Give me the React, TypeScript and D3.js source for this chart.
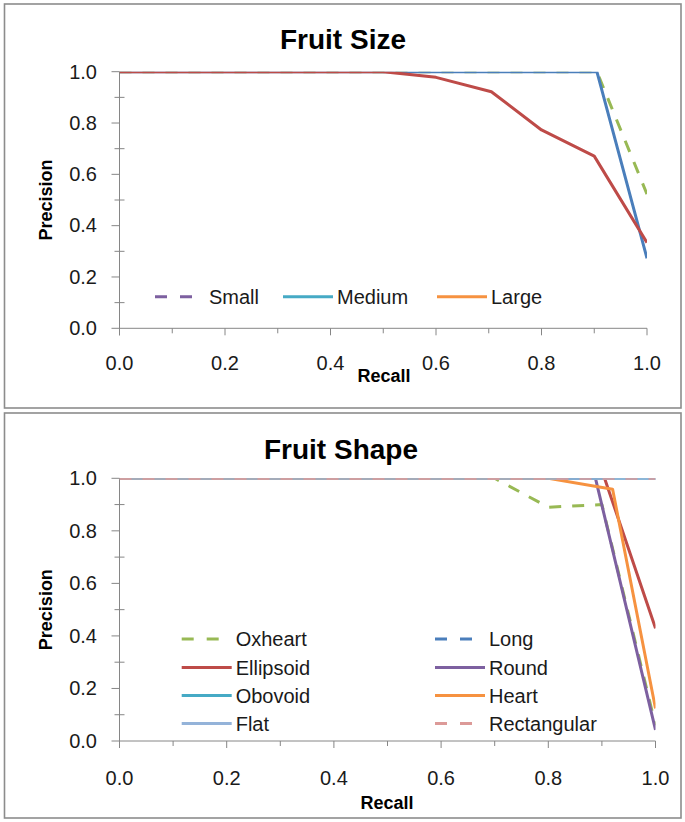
import React from 'react';
import * as d3 from 'd3';

// ---------- shared axis values ----------
const majorTicks = [0, 0.2, 0.4, 0.6, 0.8, 1.0];
const minorTicks = [0.1, 0.3, 0.5, 0.7, 0.9];

// ---------- Fruit Size (plotted series) ----------
const sizeGreenRecall = [0, 0.905, 1.0];
const sizeGreenPrecision = [1, 1, 0.523];
const sizeBlueRecall = [0, 0.905, 1.0];
const sizeBluePrecision = [1, 1, 0.273];
const sizeRedRecall = [0, 0.5, 0.6, 0.705, 0.8, 0.9, 1.0];
const sizeRedPrecision = [1, 1, 0.978, 0.922, 0.773, 0.671, 0.334];

// Fruit Size legend entries (as printed)
const sizeLegendNames = ['Small', 'Medium', 'Large'];
const sizeLegendColors = ['#7D60A0', '#46AAC5', '#F69240'];
const sizeLegendDashed = [true, false, false];

// ---------- Fruit Shape ----------
const shapeNames = ['Oxheart', 'Long', 'Ellipsoid', 'Round', 'Obovoid', 'Heart', 'Flat', 'Rectangular'];
const shapeColors = ['#98B954', '#4A7EBB', '#BE4B48', '#7D60A0', '#46AAC5', '#F69240', '#94B3D9', '#DC9A98'];
const shapeDashed = [true, true, false, false, false, false, false, true];
const oxheartRecall = [0, 0.7, 0.8, 0.9, 1.0];
const oxheartPrecision = [1, 1, 0.89, 0.9, 0.06];
const longRecall = [0, 1.0];
const longPrecision = [1, 1];
const ellipsoidRecall = [0, 0.905, 1.0];
const ellipsoidPrecision = [1, 1, 0.429];
const roundRecall = [0, 0.888, 1.0];
const roundPrecision = [1, 1, 0.042];
const obovoidRecall = [0, 1.0];
const obovoidPrecision = [1, 1];
const heartRecall = [0, 0.8, 0.92, 1.0];
const heartPrecision = [1, 1, 0.958, 0.124];
const flatRecall = [0, 1.0];
const flatPrecision = [1, 1];
const rectangularRecall = [0, 1.0];
const rectangularPrecision = [1, 1];

const FONT = "'Liberation Sans', Arial, sans-serif";
const AXIS = '#868686';
const TEXT = '#1a1a1a';

type Series = { recall: number[]; precision: number[]; color: string; dashed: boolean };
type LegendItem = { name: string; color: string; dashed: boolean; x: number; y: number };

function Panel(props: {
  id: string;
  frame: { x: number; y: number; w: number; h: number };
  plot: { left: number; right: number; top: number; bottom: number };
  title: string;
  titleX: number;
  titleY: number;
  xLabelY: number;
  recallX: number;
  recallY: number;
  series: Series[];
  legend: LegendItem[];
}) {
  const { id, frame, plot, series, legend } = props;
  const x = d3.scaleLinear().domain([0, 1]).range([plot.left, plot.right]);
  const y = d3.scaleLinear().domain([0, 1]).range([plot.bottom, plot.top]);
  const line = d3
    .line<[number, number]>()
    .x((d) => x(d[0]))
    .y((d) => y(d[1]));
  const midY = (plot.top + plot.bottom) / 2;
  return (
    <g>
      <rect x={frame.x} y={frame.y} width={frame.w} height={frame.h} fill="#fff" stroke="#8c8c8c" strokeWidth={1.6} />
      <defs>
        <clipPath id={id}>
          <rect x={plot.left} y={plot.top} width={plot.right - plot.left} height={plot.bottom - plot.top} />
        </clipPath>
      </defs>
      <text x={props.titleX} y={props.titleY} textAnchor="middle" fontFamily={FONT} fontWeight="bold" fontSize={28} fill="#000">
        {props.title}
      </text>
      {/* axes */}
      <line x1={plot.left} x2={plot.left} y1={plot.top} y2={plot.bottom + 7} stroke={AXIS} strokeWidth={1} />
      <line x1={plot.left} x2={plot.right} y1={plot.bottom} y2={plot.bottom} stroke={AXIS} strokeWidth={1} />
      {majorTicks.map((t) => (
        <g key={'ym' + t}>
          <line x1={plot.left - 8} x2={plot.left} y1={y(t)} y2={y(t)} stroke={AXIS} />
          <text x={97} y={y(t) + 6.8} textAnchor="end" fontFamily={FONT} fontSize={20} fill={TEXT}>
            {d3.format('.1f')(t)}
          </text>
          <line x1={x(t)} x2={x(t)} y1={plot.bottom} y2={plot.bottom + 7} stroke={AXIS} />
          <text x={x(t)} y={props.xLabelY} textAnchor="middle" fontFamily={FONT} fontSize={20} fill={TEXT}>
            {d3.format('.1f')(t)}
          </text>
        </g>
      ))}
      {minorTicks.map((t) => (
        <g key={'yn' + t}>
          <line x1={plot.left - 5} x2={plot.left + 5} y1={y(t)} y2={y(t)} stroke={AXIS} />
          <line x1={x(t)} x2={x(t)} y1={plot.bottom} y2={plot.bottom + 5} stroke={AXIS} />
        </g>
      ))}
      <text x={props.recallX} y={props.recallY} textAnchor="middle" fontFamily={FONT} fontWeight="bold" fontSize={18} fill="#000">
        Recall
      </text>
      <text
        transform={`translate(51.5,${midY}) rotate(-90)`}
        textAnchor="middle"
        fontFamily={FONT}
        fontWeight="bold"
        fontSize={18}
        fill="#000"
      >
        Precision
      </text>
      <g clipPath={`url(#${id})`}>
        {series.map((s, i) => (
          <path
            key={i}
            d={line(s.recall.map((r, j) => [r, s.precision[j]] as [number, number])) || ''}
            fill="none"
            stroke={s.color}
            strokeWidth={3}
            strokeDasharray={s.dashed ? '12,11' : undefined}
            strokeLinejoin="round"
          />
        ))}
      </g>
      {legend.map((l, i) => (
        <g key={'lg' + i}>
          <line
            x1={l.x}
            x2={l.x + 50}
            y1={l.y}
            y2={l.y}
            stroke={l.color}
            strokeWidth={3}
            strokeDasharray={l.dashed ? '12,13' : undefined}
          />
          <text x={l.x + 54} y={l.y + 7} fontFamily={FONT} fontSize={20} fill={TEXT}>
            {l.name}
          </text>
        </g>
      ))}
    </g>
  );
}

export default function App() {
  const sizeSeries: Series[] = [
    { recall: sizeGreenRecall, precision: sizeGreenPrecision, color: '#98B954', dashed: true },
    { recall: sizeBlueRecall, precision: sizeBluePrecision, color: '#4A7EBB', dashed: false },
    { recall: sizeRedRecall, precision: sizeRedPrecision, color: '#BE4B48', dashed: false },
  ];
  const sizeLegendX = [155, 283, 437];
  const sizeLegend: LegendItem[] = sizeLegendNames.map((n, i) => ({
    name: n,
    color: sizeLegendColors[i],
    dashed: sizeLegendDashed[i],
    x: sizeLegendX[i],
    y: 296.7,
  }));

  const shapeRecalls = [oxheartRecall, longRecall, ellipsoidRecall, roundRecall, obovoidRecall, heartRecall, flatRecall, rectangularRecall];
  const shapePrecisions = [oxheartPrecision, longPrecision, ellipsoidPrecision, roundPrecision, obovoidPrecision, heartPrecision, flatPrecision, rectangularPrecision];
  const shapeSeries: Series[] = shapeNames.map((_, i) => ({
    recall: shapeRecalls[i],
    precision: shapePrecisions[i],
    color: shapeColors[i],
    dashed: shapeDashed[i],
  }));
  const colX = [181.7, 435];
  const rowY = [639, 667.5, 695.5, 723.5];
  const shapeLegend: LegendItem[] = shapeNames.map((n, i) => ({
    name: n,
    color: shapeColors[i],
    dashed: shapeDashed[i],
    x: colX[i % 2],
    y: rowY[Math.floor(i / 2)],
  }));

  return (
    <svg width={685} height={822} style={{ position: 'absolute', left: 0, top: 0, background: '#fff' }}>
      <Panel
        id="clipSize"
        frame={{ x: 4.5, y: 4, w: 676.5, h: 404 }}
        plot={{ left: 119.5, right: 647, top: 71.7, bottom: 328.3 }}
        title="Fruit Size"
        titleX={343}
        titleY={49}
        xLabelY={370}
        recallX={384}
        recallY={381.7}
        series={sizeSeries}
        legend={sizeLegend}
      />
      <Panel
        id="clipShape"
        frame={{ x: 4.5, y: 413, w: 676.5, h: 405 }}
        plot={{ left: 119.5, right: 655.5, top: 478.3, bottom: 741 }}
        title="Fruit Shape"
        titleX={341}
        titleY={459}
        xLabelY={785}
        recallX={387}
        recallY={809}
        series={shapeSeries}
        legend={shapeLegend}
      />
    </svg>
  );
}
